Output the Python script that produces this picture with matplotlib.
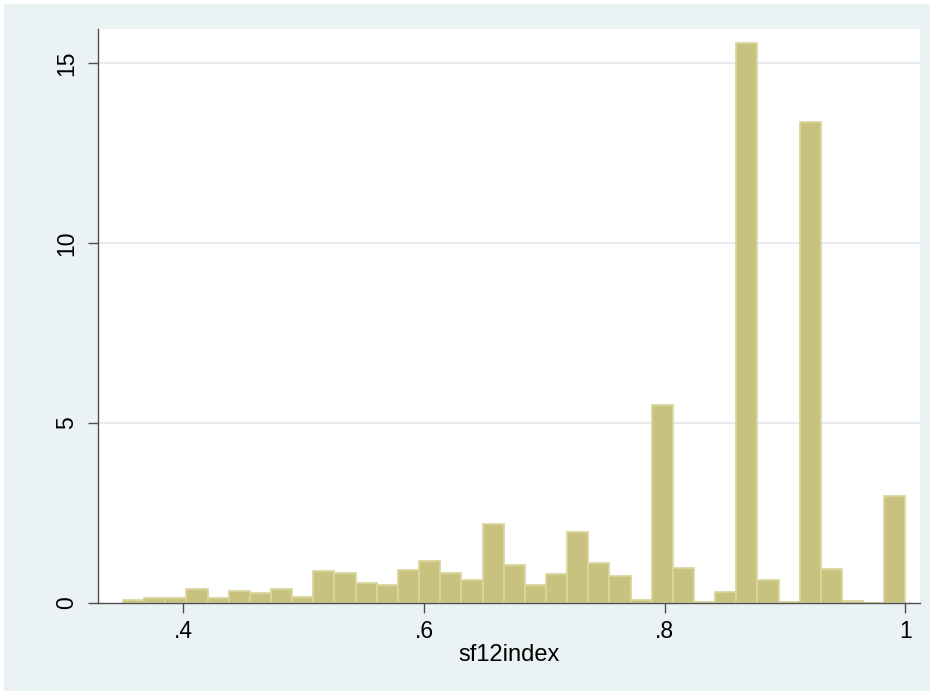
"""
Stata-style density histogram of sf12index.
Saves out.png (934x695).
"""

import matplotlib.pyplot as plt
import numpy as np
from matplotlib.patches import Rectangle

# histogram: 37 equal bins between the sample min and max
bin_lo = 0.35
bin_hi = 1.0
density = [
    0.075, 0.13, 0.12, 0.38, 0.14, 0.33, 0.26, 0.38, 0.16, 0.89,
    0.83, 0.56, 0.50, 0.90, 1.17, 0.82, 0.64, 2.20, 1.05, 0.48,
    0.79, 1.97, 1.10, 0.74, 0.075, 5.51, 0.97, 0.02, 0.30, 15.56,
    0.62, 0.02, 13.37, 0.94, 0.06, 0.0, 2.98,
]
x_ticks = [0.4, 0.6, 0.8, 1.0]
x_ticklabels = [".4", ".6", ".8", "1"]
y_ticks = [0, 5, 10, 15]
y_ticklabels = ["0", "5", "10", "15"]

BG = "#EAF2F3"
FILL = "#C9C27F"
EDGE = "#DAD59F"
GRID = "#E2EBEE"
AXIS = "#4F4F4F"

plt.rcParams["font.family"] = ["Liberation Sans", "DejaVu Sans"]

W, H = 934, 695
fig = plt.figure(figsize=(W / 100, H / 100), dpi=100, facecolor="white")
# light graph region inside a thin white border
fig.patches.append(Rectangle((4 / W, 4 / H), (W - 8) / W, (H - 8) / H,
                             transform=fig.transFigure, facecolor=BG,
                             edgecolor="none", zorder=-10))

left, right, top, bottom = 97.7, 920.3, 29.3, 602.7
ax = fig.add_axes([left / W, (H - bottom) / H, (right - left) / W, (bottom - top) / H])
ax.set_facecolor("white")

edges = np.linspace(bin_lo, bin_hi, len(density) + 1)
widths = np.diff(edges)
ax.bar(edges[:-1], density, width=widths, align="edge",
       color=FILL, edgecolor=EDGE, linewidth=1.3, zorder=3)

ax.set_xlim(0.329, 1.0123)
ax.set_ylim(0, 15.95)

ax.set_yticks(y_ticks)
ax.set_yticklabels(y_ticklabels, rotation=90, va="center")
ax.set_xticks(x_ticks)
ax.set_xticklabels(x_ticklabels)
ax.tick_params(axis="both", labelsize=16.5, length=7.2, width=1, color=AXIS,
               labelcolor="black")
ax.tick_params(axis="y", pad=7)
ax.tick_params(axis="x", pad=5)

for v in y_ticks[1:]:
    ax.axhline(v, color=GRID, linewidth=1.3, zorder=1)

for side in ["top", "right"]:
    ax.spines[side].set_visible(False)
for side in ["left", "bottom"]:
    ax.spines[side].set_color(AXIS)
    ax.spines[side].set_linewidth(1)
    ax.spines[side].set_zorder(4)

ax.set_xlabel("sf12index", fontsize=17, labelpad=1)

fig.savefig("out.png", dpi=100, facecolor="white")
